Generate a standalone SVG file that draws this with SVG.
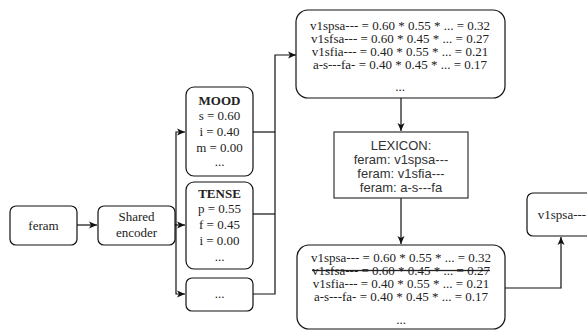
<svg xmlns="http://www.w3.org/2000/svg" width="587" height="330" viewBox="0 0 587 330">
<style>
.box{fill:#fff;stroke:#111;stroke-width:1.2}
.lex{fill:#fff;stroke:#333;stroke-width:1.2}
.t{font-family:"Liberation Serif","Times New Roman",serif;font-size:13px;fill:#222;text-anchor:middle}
.b{font-weight:bold}
.s{font-family:"Liberation Sans",Arial,sans-serif;font-size:13px;fill:#333;text-anchor:middle}
.c{fill:none;stroke:#111;stroke-width:1.2}
</style>
<defs>
<marker id="arr" markerWidth="10" markerHeight="10" refX="9" refY="5" orient="auto" markerUnits="userSpaceOnUse">
<path d="M1,1.5 L9,5 L1,8.5 L3,5 Z" fill="#111"/>
</marker>
</defs>
<g id="connectors">
<path class="c" d="M77,225 H97" marker-end="url(#arr)"/>
<path class="c" d="M175,225 H185" marker-end="url(#arr)"/>
<path class="c" d="M175,225 H176 V132 H185" marker-end="url(#arr)"/>
<path class="c" d="M175,225 H176 V294 H185" marker-end="url(#arr)"/>
<path class="c" d="M253,132 H275"/>
<path class="c" d="M253,214 H275"/>
<path class="c" d="M253,294 H275 V55 H296" marker-end="url(#arr)"/>
<path class="c" d="M401,98 V131" marker-end="url(#arr)"/>
<path class="c" d="M401,198 V244" marker-end="url(#arr)"/>
<path class="c" d="M505,288 H561 V237" marker-end="url(#arr)"/>
</g>
<g id="feram">
<rect class="box" x="10" y="206" width="67" height="39" rx="6"/>
<text class="t" x="43.5" y="229.5">feram</text>
</g>
<g id="encoder">
<rect class="box" x="98" y="206" width="77" height="39" rx="6"/>
<text class="t" x="136.5" y="221">Shared</text>
<text class="t" x="136.5" y="237">encoder</text>
</g>
<g id="mood">
<rect class="box" x="186" y="87" width="67" height="89" rx="8"/>
<text class="t b" x="219.5" y="104.5">MOOD</text>
<text class="t" x="219.5" y="120">s = 0.60</text>
<text class="t" x="219.5" y="136">i = 0.40</text>
<text class="t" x="219.5" y="152">m = 0.00</text>
<text class="t" x="219.5" y="166">...</text>
</g>
<g id="tense">
<rect class="box" x="186" y="182" width="67" height="87" rx="8"/>
<text class="t b" x="219.5" y="197.5">TENSE</text>
<text class="t" x="219.5" y="212.5">p = 0.55</text>
<text class="t" x="219.5" y="228.5">f = 0.45</text>
<text class="t" x="219.5" y="245">i = 0.00</text>
<text class="t" x="219.5" y="261">...</text>
</g>
<g id="other">
<rect class="box" x="186" y="278" width="67" height="33" rx="6"/>
<text class="t" x="219.5" y="297.5">...</text>
</g>
<g id="candidates">
<rect class="box" x="296" y="10" width="209" height="88" rx="12"/>
<text class="t" x="400" y="29.5">v1spsa--- = 0.60 * 0.55 * ... = 0.32</text>
<text class="t" x="400" y="42.5">v1sfsa--- = 0.60 * 0.45 * ... = 0.27</text>
<text class="t" x="400" y="55.5">v1sfia--- = 0.40 * 0.55 * ... = 0.21</text>
<text class="t" x="400" y="68.5">a-s---fa- = 0.40 * 0.45 * ... = 0.17</text>
<text class="t" x="400" y="91">...</text>
</g>
<g id="lexicon">
<rect class="lex" x="334" y="132" width="134" height="66"/>
<text class="s" x="401" y="149.5">LEXICON:</text>
<text class="s" x="401" y="163.5">feram: v1spsa---</text>
<text class="s" x="401" y="177.5">feram: v1sfia---</text>
<text class="s" x="401" y="191.5">feram: a-s---fa</text>
</g>
<g id="filtered">
<rect class="box" x="297" y="245" width="208" height="84" rx="12"/>
<text class="t" x="401" y="261.5">v1spsa--- = 0.60 * 0.55 * ... = 0.32</text>
<text class="t" x="401" y="274.5" text-decoration="line-through">v1sfsa--- = 0.60 * 0.45 * ... = 0.27</text>
<text class="t" x="401" y="287.5">v1sfia--- = 0.40 * 0.55 * ... = 0.21</text>
<text class="t" x="401" y="300.5">a-s---fa- = 0.40 * 0.45 * ... = 0.17</text>
<text class="t" x="401" y="324">...</text>
</g>
<g id="result">
<rect class="box" x="527" y="193" width="70" height="43" rx="6"/>
<text class="t" x="562" y="218.5">v1spsa---</text>
</g>
</svg>
